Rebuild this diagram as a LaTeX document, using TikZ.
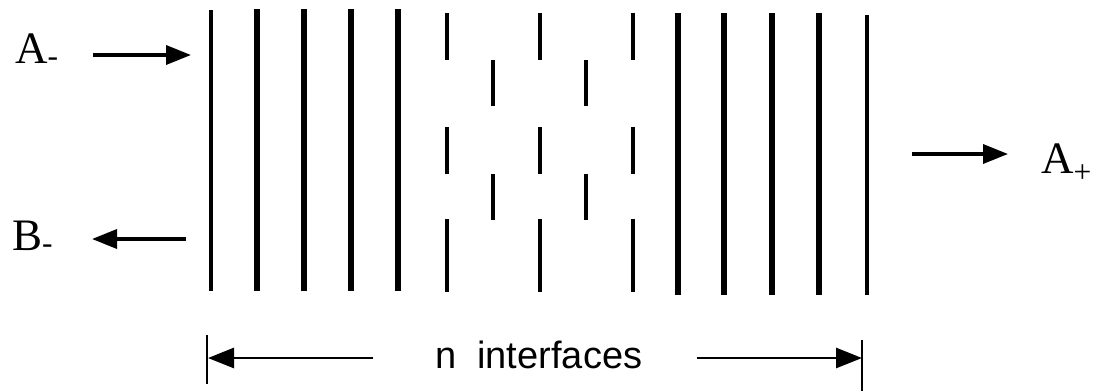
\documentclass[tikz,border=0pt]{standalone}
\usepackage{fontspec}
\setmainfont{Liberation Serif}
\newfontfamily\dimfont{Liberation Sans}
\usetikzlibrary{arrows.meta}
\begin{document}
\begin{tikzpicture}[
    x=1pt, y=-1pt,
    thinface/.style={line width=3.5pt},
    thickface/.style={line width=6pt},
    dashface/.style={line width=4pt},
    tick/.style={line width=2.5pt},
    flow/.style={line width=3.5pt, -{Triangle[length=25pt,width=19pt]}},
    dimflow/.style={line width=2.8pt, -{Triangle[length=26pt,width=20pt]}},
    wave/.style={font=\fontsize{45}{50}\selectfont, inner sep=0pt},
    dimlabel/.style={font=\dimfont\fontsize{38}{42}\selectfont, inner sep=0pt}
  ]
    \useasboundingbox (0,0) rectangle (1094,391);
    \draw[thinface] (211,10) -- (211,291);
    \foreach \x in {257,304,351,398}
      \draw[thickface] (\x,9) -- (\x,291);
    \foreach \x in {678,724,772,819}
      \draw[thickface] (\x,13) -- (\x,295);
    \draw[thinface] (867,15) -- (867,295);
    \foreach \x in {447,540,633}
      \foreach \a/\b in {13/60,127/174,219/292}
        \draw[dashface] (\x,\a) -- (\x,\b);
    \foreach \x in {493,586}
      \foreach \a/\b in {60/106,174/220}
        \draw[dashface] (\x,\a) -- (\x,\b);
    \node[wave, anchor=base west] (Am) at (15,63) {A\textsubscript{-}};
    \node[wave, anchor=base west] (Bm) at (12,250) {B\textsubscript{-}};
    \node[wave, anchor=base west] (Ap) at (1041,173) {A\textsubscript{+}};
    \coordinate (Am tail) at (93,55);
    \coordinate (Am head) at (191,55);
    \coordinate (Bm tail) at (186,239);
    \coordinate (Bm head) at (92,239);
    \coordinate (Ap tail) at (912,154);
    \coordinate (Ap head) at (1008,154);
    \draw[flow] (Am tail) -- (Am head);
    \draw[flow] (Bm tail) -- (Bm head);
    \draw[flow] (Ap tail) -- (Ap head);
    \draw[tick] (207,335) -- (207,384);
    \draw[tick] (862,340) -- (862,391);
    \node[dimlabel, anchor=base west] (count) at (435,368) {n\ \ interfaces};
    \coordinate (count left) at (373,358);
    \coordinate (count right) at (697,358);
    \coordinate (first face) at (208,358);
    \coordinate (last face) at (862,358);
    \draw[dimflow] (count left) -- (first face);
    \draw[dimflow] (count right) -- (last face);
  \end{tikzpicture}
\end{document}
